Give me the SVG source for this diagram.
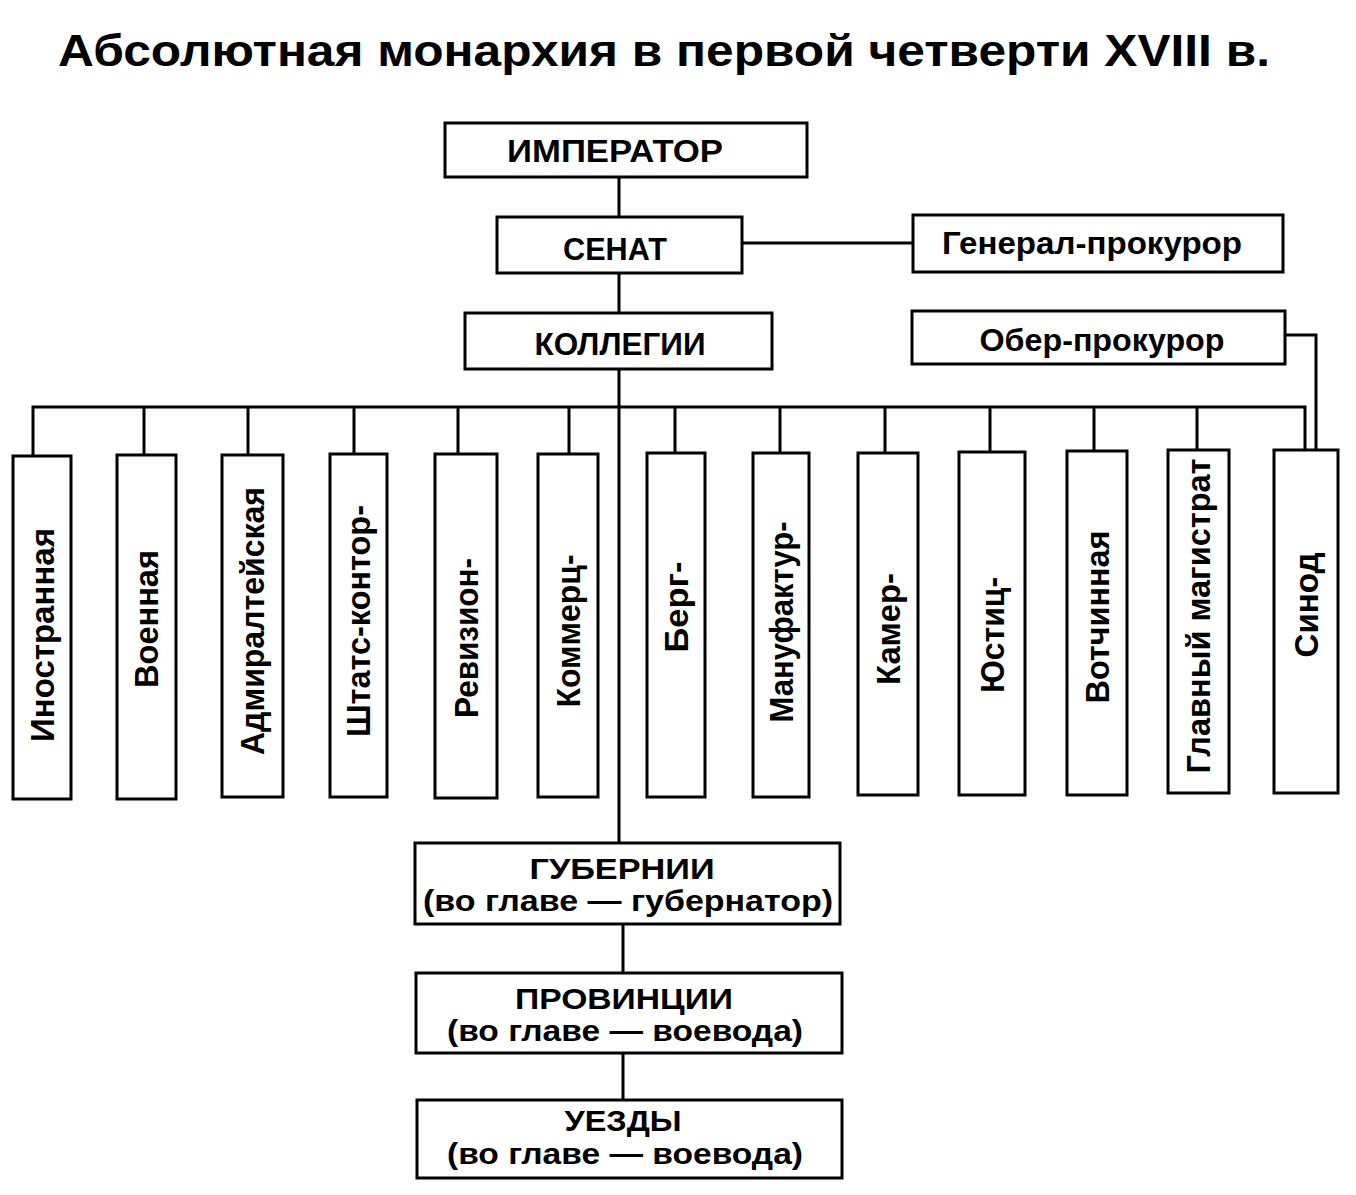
<svg xmlns="http://www.w3.org/2000/svg" width="1356" height="1195" viewBox="0 0 1356 1195">
<style>
.box{fill:#fff;stroke:#000;stroke-width:3}
.ln{fill:none;stroke:#000;stroke-width:3}
text{font-family:"Liberation Sans",Arial,sans-serif;font-weight:bold;fill:#000}
.h{font-size:32px;text-anchor:middle}
.h2{font-size:30px;text-anchor:middle}
.v{font-size:34px;text-anchor:middle}
.t{font-size:45px;text-anchor:middle}
</style>
<rect width="1356" height="1195" fill="#fff"/>
<text class="t" x="664" y="66" textLength="1212" lengthAdjust="spacingAndGlyphs">Абсолютная монархия в первой четверти XVIII в.</text>
<g id="connectors">
<path class="ln" d="M619 177V217M619 273V313M619 369V843M742 243H913"/>
<path class="ln" d="M623 924V973M623 1053V1100"/>
<path class="ln" d="M33 456V407H1305V450M144 407V455M248 407V455M354 407V454M458 407V454M569 407V454M675 407V453M780 407V453M885 407V453M990 407V452M1094 407V451M1197 407V450"/>
<path class="ln" d="M1285 335H1316V450"/>
</g>
<g id="imperator"><rect class="box" x="445" y="123" width="362" height="54"/><text class="h" x="615" y="162" textLength="216" lengthAdjust="spacingAndGlyphs">ИМПЕРАТОР</text></g>
<g id="senat"><rect class="box" x="497" y="217" width="245" height="56"/><text class="h" x="615" y="260" textLength="104" lengthAdjust="spacingAndGlyphs">СЕНАТ</text></g>
<g id="general"><rect class="box" x="913" y="215" width="370" height="57"/><text class="h" x="1092" y="254" textLength="300" lengthAdjust="spacingAndGlyphs">Генерал-прокурор</text></g>
<g id="kollegii"><rect class="box" x="465" y="313" width="307" height="56"/><text class="h" x="620" y="355" textLength="171" lengthAdjust="spacingAndGlyphs">КОЛЛЕГИИ</text></g>
<g id="ober"><rect class="box" x="912" y="311" width="373" height="53"/><text class="h" x="1102" y="351" textLength="245" lengthAdjust="spacingAndGlyphs">Обер-прокурор</text></g>

<g id="c1"><rect class="box" x="13" y="456" width="58" height="343"/><text class="v" transform="translate(54,635) rotate(-90)" textLength="214" lengthAdjust="spacingAndGlyphs">Иностранная</text></g>
<g id="c2"><rect class="box" x="117" y="455" width="59" height="344"/><text class="v" transform="translate(158,619) rotate(-90)" textLength="138" lengthAdjust="spacingAndGlyphs">Военная</text></g>
<g id="c3"><rect class="box" x="222" y="455" width="61" height="342"/><text class="v" transform="translate(264,621) rotate(-90)" textLength="268" lengthAdjust="spacingAndGlyphs">Адмиралтейская</text></g>
<g id="c4"><rect class="box" x="330" y="454" width="57" height="343"/><text class="v" transform="translate(370,621) rotate(-90)" textLength="232" lengthAdjust="spacingAndGlyphs">Штатс-контор-</text></g>
<g id="c5"><rect class="box" x="435" y="454" width="62" height="344"/><text class="v" transform="translate(478,638) rotate(-90)" textLength="160" lengthAdjust="spacingAndGlyphs">Ревизион-</text></g>
<g id="c6"><rect class="box" x="538" y="454" width="60" height="343"/><text class="v" transform="translate(580,631) rotate(-90)" textLength="153" lengthAdjust="spacingAndGlyphs">Коммерц-</text></g>
<g id="c7"><rect class="box" x="647" y="453" width="58" height="344"/><text class="v" transform="translate(688,607) rotate(-90)" textLength="91" lengthAdjust="spacingAndGlyphs">Берг-</text></g>
<g id="c8"><rect class="box" x="753" y="453" width="56" height="344"/><text class="v" transform="translate(793,622) rotate(-90)" textLength="201" lengthAdjust="spacingAndGlyphs">Мануфактур-</text></g>
<g id="c9"><rect class="box" x="858" y="453" width="60" height="342"/><text class="v" transform="translate(900,629) rotate(-90)" textLength="112" lengthAdjust="spacingAndGlyphs">Камер-</text></g>
<g id="c10"><rect class="box" x="959" y="452" width="66" height="343"/><text class="v" transform="translate(1004,635) rotate(-90)" textLength="116" lengthAdjust="spacingAndGlyphs">Юстиц-</text></g>
<g id="c11"><rect class="box" x="1067" y="451" width="60" height="344"/><text class="v" transform="translate(1109,617) rotate(-90)" textLength="173" lengthAdjust="spacingAndGlyphs">Вотчинная</text></g>
<g id="c12"><rect class="box" x="1168" y="450" width="61" height="343"/><text class="v" transform="translate(1210,616) rotate(-90)" textLength="315" lengthAdjust="spacingAndGlyphs">Главный магистрат</text></g>
<g id="c13"><rect class="box" x="1274" y="450" width="64" height="343"/><text class="v" transform="translate(1318,605) rotate(-90)" textLength="105" lengthAdjust="spacingAndGlyphs">Синод</text></g>

<g id="gubernii"><rect class="box" x="415" y="843" width="425" height="81"/><text class="h2" x="622" y="879" textLength="185" lengthAdjust="spacingAndGlyphs">ГУБЕРНИИ</text><text class="h2" x="628" y="911" textLength="410" lengthAdjust="spacingAndGlyphs">(во главе — губернатор)</text></g>
<g id="provincii"><rect class="box" x="416" y="973" width="426" height="80"/><text class="h2" x="624" y="1009" textLength="218" lengthAdjust="spacingAndGlyphs">ПРОВИНЦИИ</text><text class="h2" x="625" y="1041" textLength="356" lengthAdjust="spacingAndGlyphs">(во главе — воевода)</text></g>
<g id="uezdy"><rect class="box" x="417" y="1100" width="425" height="78"/><text class="h2" x="623" y="1131" textLength="117" lengthAdjust="spacingAndGlyphs">УЕЗДЫ</text><text class="h2" x="625" y="1164" textLength="356" lengthAdjust="spacingAndGlyphs">(во главе — воевода)</text></g>
</svg>
